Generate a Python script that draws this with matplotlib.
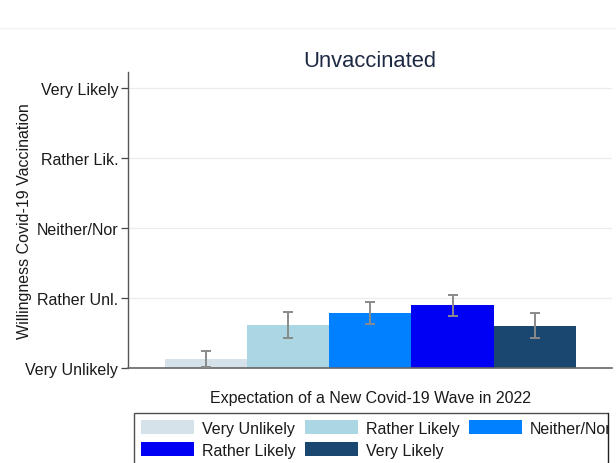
import matplotlib
matplotlib.use("Agg")
import matplotlib.pyplot as plt
from matplotlib.patches import Rectangle
from matplotlib.lines import Line2D
import numpy as np

plt.rcParams['font.family'] = ['Liberation Sans', 'DejaVu Sans']

# Data
categories = ["Very Unlikely", "Rather Likely", "Neither/Nor", "Rather Likely", "Very Likely"]
means = [1.13, 1.61, 1.79, 1.90, 1.60]
ci_low = [1.01, 1.43, 1.63, 1.75, 1.43]
ci_high = [1.24, 1.80, 1.95, 2.04, 1.78]
ytick_vals = [1, 2, 3, 4, 5]
ytick_labels = ["Very Unlikely", "Rather Unl.", "Neither/Nor", "Rather Lik.", "Very Likely"]
colors = ["#d6e2e9", "#abd6e3", "#0180ff", "#0000f5", "#1a476f"]

W, H = 616, 464
fig = plt.figure(figsize=(W / 100, H / 100), dpi=100)
fig.patch.set_facecolor("white")

FS = 11.5

# axes box in pixel coords
ax_left, ax_right, ax_top, ax_bottom = 128, 612, 73, 369
ax = fig.add_axes([ax_left / W, 1 - ax_bottom / H, (ax_right - ax_left) / W, (ax_bottom - ax_top) / H])

x = np.arange(len(categories))
base = 1.0
heights = [m - base for m in means]
yerr = np.array([[m - lo for m, lo in zip(means, ci_low)], [hi - m for m, hi in zip(means, ci_high)]])

ax.bar(x, heights, bottom=base, width=1.0, color=colors, edgecolor="none", zorder=2)
ax.errorbar(x, means, yerr=yerr, fmt="none", ecolor="#8a8a8a", elinewidth=1.4,
            capsize=3.3, capthick=1.4, zorder=3)

ax.set_xlim(-0.95, 4.94)
ax.set_ylim(1.0, 5.23)
ax.set_yticks(ytick_vals)
ax.set_yticklabels(ytick_labels, fontsize=FS, color="#1a1a1a")
ax.set_xticks([])
ax.tick_params(axis="y", length=5, width=0.9, color="#444444", pad=2)
ax.yaxis.grid(True, color="#ececec", linewidth=0.9, zorder=0)
ax.set_axisbelow(True)
for s in ["top", "right"]:
    ax.spines[s].set_visible(False)
ax.spines["left"].set_color("#555555")
ax.spines["left"].set_linewidth(1.0)
ax.spines["bottom"].set_color("#666666")
ax.spines["bottom"].set_linewidth(1.2)

ax.set_title("Unvaccinated", fontsize=15.8, color="#1e2a44", pad=4, y=1.0)
ax.set_xlabel("Expectation of a New Covid-19 Wave in 2022", fontsize=FS, color="#1a1a1a", labelpad=16)
ax.set_ylabel("Willingness Covid-19 Vaccination", fontsize=FS, color="#1a1a1a")
ax.yaxis.set_label_coords((32 - ax_left) / (ax_right - ax_left), 0.5)

# Legend (row-major order: matplotlib fills columns, so reorder)
order = [0, 3, 1, 4, 2]
handles = [Rectangle((0, 0), 1, 1, facecolor=colors[i], edgecolor="none") for i in order]
labels = [categories[i] for i in order]
leg = fig.legend(handles, labels, ncol=3, loc="upper left",
                 bbox_to_anchor=(134 / W, 1 - 414 / H), fontsize=FS,
                 frameon=True, fancybox=False, edgecolor="#222222",
                 handlelength=3.3, handleheight=0.95, handletextpad=0.5,
                 columnspacing=0.6, borderpad=0.45, labelspacing=0.42,
                 borderaxespad=0.0)
leg.get_frame().set_linewidth(1.0)
for t in leg.get_texts():
    t.set_color("#1a1a1a")

# cropped right edge of legend box
fig.add_artist(Rectangle((608 / W, 0), (W - 608) / W, 1 - 412 / H, transform=fig.transFigure,
                         facecolor="white", edgecolor="none", zorder=20))
fig.add_artist(Line2D([607.5 / W, 607.5 / W], [0, 1 - 414 / H], transform=fig.transFigure,
                      color="#222222", linewidth=1.0, zorder=21))
# faint top separator
fig.add_artist(Line2D([0, 1], [1 - 29 / H, 1 - 29 / H], transform=fig.transFigure,
                      color="#f4f4f4", linewidth=1.0, zorder=1))

fig.savefig("out.png", dpi=100)
